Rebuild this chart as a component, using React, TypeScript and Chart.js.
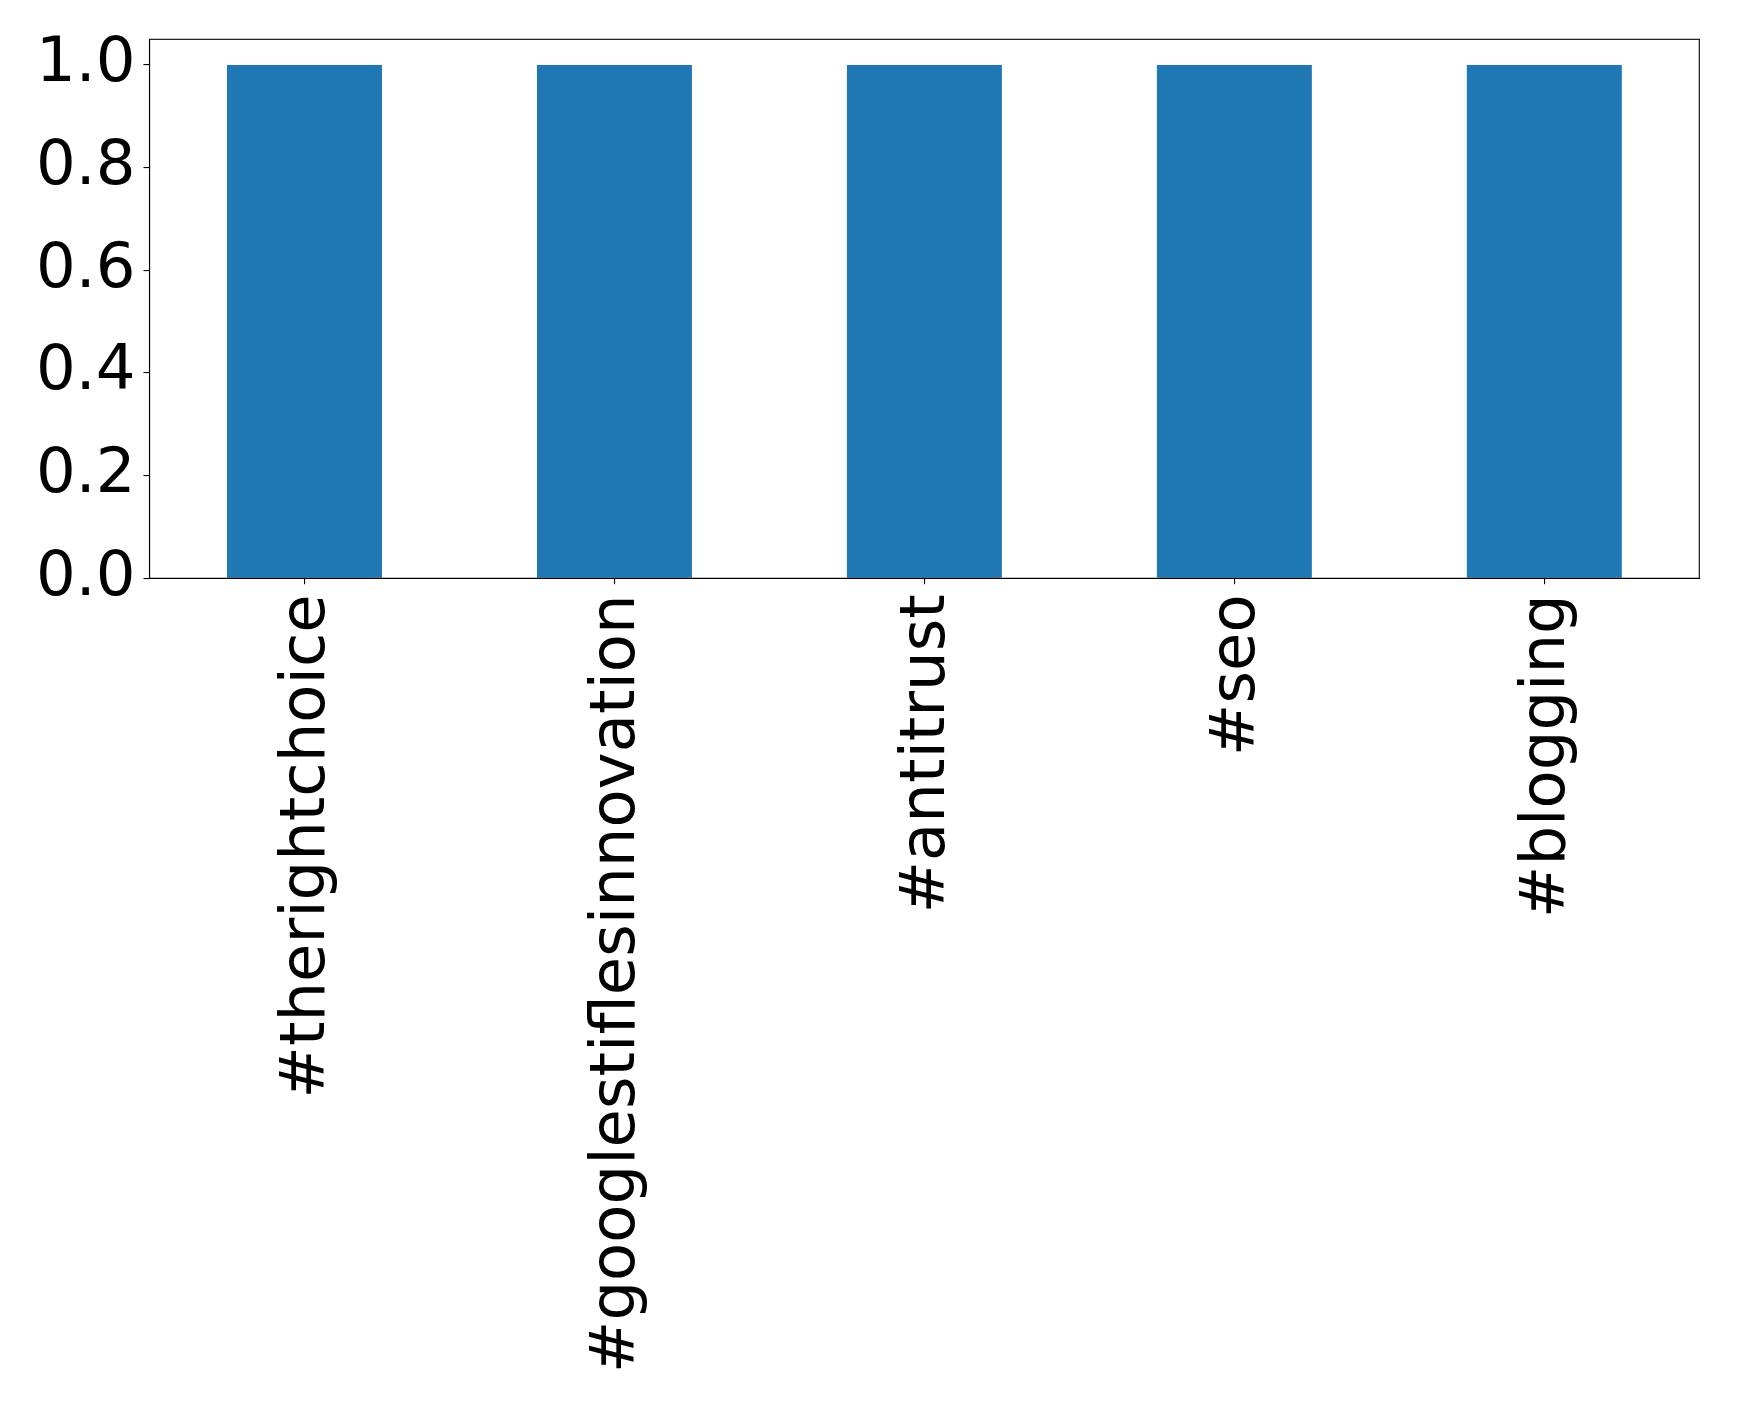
import React, { useEffect, useRef } from "react";
import { Chart, registerables } from "chart.js";

Chart.register(...registerables);

const categories = ["#therightchoice", "#googlestiflesinnovation", "#antitrust", "#seo", "#blogging"];
const counts = [1, 1, 1, 1, 1];
const yTicks = [0, 0.2, 0.4, 0.6, 0.8, 1.0];

const W = 1739;
const H = 1406;
const LEFT = 149.5;
const TOP = 39.3;
const RIGHT = 1699.3;
const BOTTOM = 578.3;

const boxPlugin = {
  id: "boxPlugin",
  afterDraw(chart: any) {
    const { ctx, chartArea } = chart;
    ctx.save();
    ctx.strokeStyle = "#000";
    ctx.lineWidth = 1.1;
    ctx.strokeRect(chartArea.left, chartArea.top, chartArea.right - chartArea.left, chartArea.bottom - chartArea.top);
    ctx.restore();
  },
};

export default function App() {
  const ref = useRef<HTMLCanvasElement | null>(null);
  useEffect(() => {
    document.body.style.margin = "0";
    const canvas = ref.current!;
    const chart = new Chart(canvas, {
      type: "bar",
      data: {
        labels: categories,
        datasets: [
          {
            data: counts,
            backgroundColor: "#1f77b4",
            borderWidth: 0,
            barPercentage: 0.5,
            categoryPercentage: 1,
          },
        ],
      },
      options: {
        animation: false,
        responsive: false,
        maintainAspectRatio: false,
        devicePixelRatio: 1,
        layout: { padding: { left: 0, top: TOP, right: W - RIGHT, bottom: 0 } },
        plugins: { legend: { display: false }, tooltip: { enabled: false } },
        scales: {
          x: {
            offset: true,
            grid: { display: true, drawOnChartArea: false, drawTicks: true, tickLength: 6, color: "#000", lineWidth: 1.1, offset: false },
            border: { display: true, color: "#000", width: 1.1 },
            ticks: {
              color: "#000",
              font: { family: "DejaVu Sans", size: 62.5 },
              maxRotation: 90,
              minRotation: 90,
              padding: 10,
              labelOffset: 3,
              autoSkip: false,
            },
            afterFit: (scale: any) => {
              scale.height = H - BOTTOM;
              scale.paddingLeft = 0;
              scale.paddingRight = 0;
            },
          },
          y: {
            min: 0,
            max: 1.05,
            afterBuildTicks: (scale: any) => {
              scale.ticks = yTicks.map((v) => ({ value: v }));
            },
            grid: { display: true, drawOnChartArea: false, drawTicks: true, tickLength: 6, color: "#000", lineWidth: 1.1 },
            border: { display: true, color: "#000", width: 1.1 },
            ticks: {
              color: "#000",
              font: { family: "DejaVu Sans", size: 62.5 },
              padding: 8,
              callback: (v: any) => Number(v).toFixed(1),
            },
            afterFit: (scale: any) => {
              scale.width = LEFT;
              scale.paddingTop = 0;
              scale.paddingBottom = 0;
            },
          },
        },
      },
      plugins: [boxPlugin],
    });
    return () => chart.destroy();
  }, []);
  return (
    <div style={{ position: "absolute", left: 0, top: 0, width: W, height: H, background: "#fff" }}>
      <canvas ref={ref} width={W} height={H} style={{ width: W, height: H }} />
    </div>
  );
}
